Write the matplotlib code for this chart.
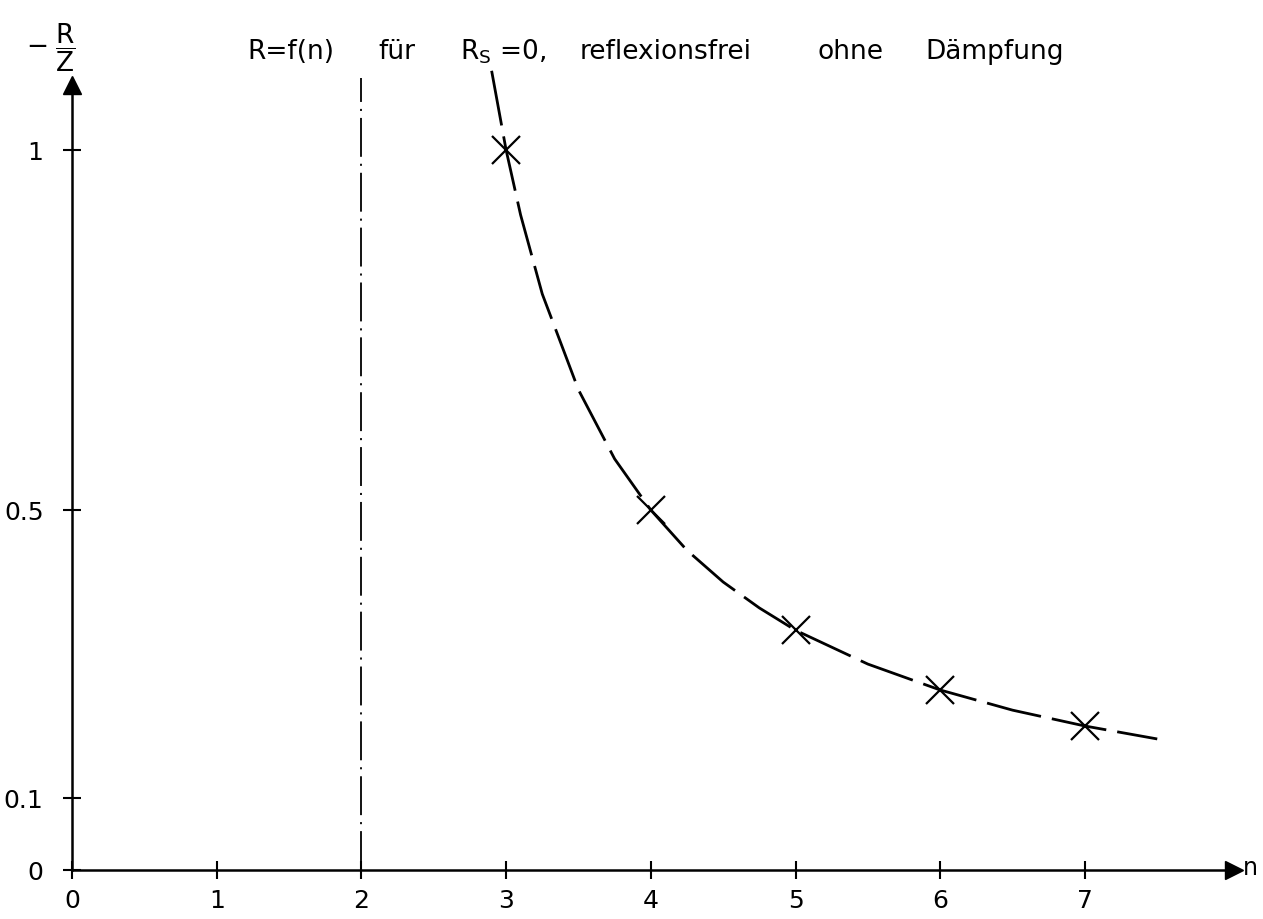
import matplotlib
matplotlib.use('Agg')
import matplotlib.pyplot as plt

# values
n_marks = [3, 4, 5, 6, 7]
r_marks = [1.0, 0.5, 0.333, 0.25, 0.2]

n_curve = [2.9, 3.0, 3.1, 3.25, 3.5, 3.75, 4.0, 4.25, 4.5, 4.75, 5.0, 5.5, 6.0, 6.5, 7.0, 7.5]
r_curve = [1.11, 1.0, 0.91, 0.8, 0.667, 0.571, 0.5, 0.444, 0.4, 0.364, 0.333, 0.286, 0.25, 0.222, 0.2, 0.182]

x_ticks = [0, 1, 2, 3, 4, 5, 6, 7]
y_ticks = [0, 0.1, 0.5, 1]
y_tick_labels = ['0', '0.1', '0.5', '1']
n_limit = 2

title_words = ['R=f(n)', 'für', r'R$_\mathsf{S}$ =0,', 'reflexionsfrei', 'ohne', 'Dämpfung']
title_word_x = [1.21, 2.115, 2.68, 3.51, 5.15, 5.895]

plt.rcParams['font.family'] = ['DejaVu Sans']
plt.rcParams['mathtext.fontset'] = 'dejavusans'
plt.rcParams['lines.scale_dashes'] = False

fig = plt.figure(figsize=(12.63, 9.19), dpi=100)
ax = fig.add_axes([0, 0, 1, 1])

# pixel scale: 144.7 px per n, 720 px per R/Z unit
ax.set_xlim(-72 / 144.7, (1263 - 72) / 144.7)
ax.set_ylim(-(919 - 870) / 720, 870 / 720)

for s in ['top', 'right']:
    ax.spines[s].set_visible(False)
ax.spines['left'].set_position(('data', 0))
ax.spines['bottom'].set_position(('data', 0))
ax.spines['left'].set_bounds(0, 1.09)
ax.spines['bottom'].set_bounds(0, 8.02)
ax.spines['left'].set_linewidth(1.8)
ax.spines['bottom'].set_linewidth(1.8)

# arrow heads
ax.plot(8.03, 0, marker='>', color='k', ms=13, clip_on=False)
ax.plot(0, 1.09, marker='^', color='k', ms=13, clip_on=False)

ax.set_xticks(x_ticks)
ax.set_xticklabels([str(v) for v in x_ticks])
ax.set_yticks(y_ticks)
ax.set_yticklabels(y_tick_labels)
ax.tick_params(direction='inout', length=13, width=1.5, labelsize=18)
ax.tick_params(axis='x', pad=7)
ax.tick_params(axis='y', pad=14)

# asymptote at n = 2
ax.plot([n_limit, n_limit], [0, 1.1], color='k', lw=1.3,
        dashes=(28, 5, 1.5, 5))

# curve R = f(n)
ax.plot(n_curve, r_curve, color='k', lw=2, dashes=(40, 8))
ax.plot(n_marks, r_marks, linestyle='none', marker='x', color='k',
        ms=20, mew=1.6)

ax.text(8.09, 0.003, 'n', fontsize=17, va='center', ha='left')
ax.text(-0.15, 1.142, r'$-\;\dfrac{\mathsf{R}}{\mathsf{Z}}$', fontsize=19,
        va='center', ha='center')

for word, x in zip(title_words, title_word_x):
    ax.text(x, 1.136, word, fontsize=19, va='center', ha='left')

fig.savefig('out.png', dpi=100)
